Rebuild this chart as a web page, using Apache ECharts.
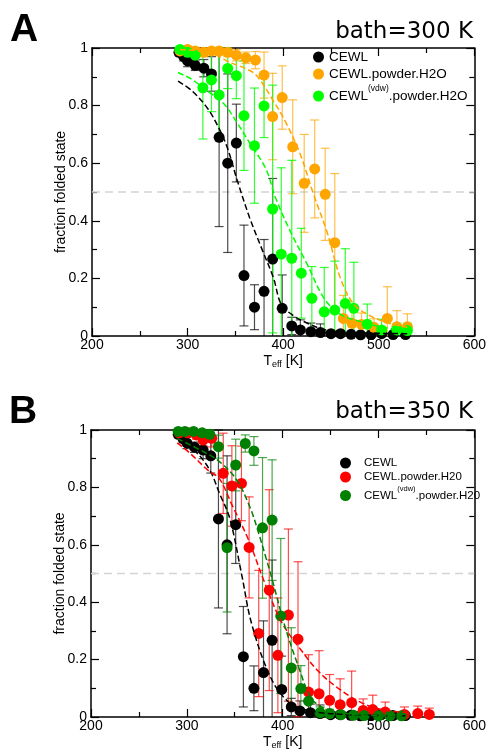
<!DOCTYPE html>
<html>
<head>
<meta charset="utf-8">
<script src="https://cdn.jsdelivr.net/npm/echarts@6/dist/echarts.min.js"></script>
<style>
html,body{margin:0;padding:0;background:#fff;}
#chart{width:489px;height:752px;}
</style>
</head>
<body>
<div id="chart"></div>
<script>
// ---------- axis / reference values ----------
const xTicksRange = [200, 600];
const xInterval = 100;
const yRange = [0, 1];
const yInterval = 0.2;
const halfLine = 0.5;

// ---------- CEWL (same in both panels) ----------
const cewlT   = [291, 296, 300, 308, 317, 325, 333, 342, 351, 359, 370, 380, 389, 399, 409, 418, 429, 439, 450, 460, 471, 481, 492, 503, 515, 528];
const cewlF   = [0.985, 0.97, 0.955, 0.94, 0.93, 0.91, 0.69, 0.60, 0.67, 0.21, 0.10, 0.155, 0.267, 0.096, 0.035, 0.021, 0.015, 0.012, 0.008, 0.008, 0.006, 0.004, 0.005, 0.008, 0.005, 0.005];
const cewlErr = [0.01, 0.015, 0.02, 0.018, 0.03, 0.06, 0.31, 0.31, 0.135, 0.175, 0.078, 0.18, 0.28, 0.116, 0.03, 0.035, 0.03, 0.03, 0.01, 0.01, 0.005, 0.005, 0.005, 0.008, 0.005, 0.005];

// ---------- Panel A: CEWL.powder.H2O ----------
const powT   = [292, 300, 308, 317, 325, 333, 342, 351, 361, 371, 380, 389, 399, 410, 422, 433, 444, 454, 463, 472, 482, 495, 509, 519, 530];
const powF   = [0.99, 0.995, 0.99, 0.985, 0.99, 0.99, 0.985, 0.975, 0.966, 0.958, 0.906, 0.762, 0.828, 0.657, 0.530, 0.580, 0.492, 0.324, 0.061, 0.044, 0.04, 0.03, 0.061, 0.032, 0.032];
const powErr = [0.01, 0.01, 0.01, 0.015, 0.01, 0.015, 0.015, 0.02, 0.02, 0.03, 0.08, 0.15, 0.11, 0.163, 0.17, 0.17, 0.16, 0.24, 0.08, 0.05, 0.04, 0.03, 0.11, 0.056, 0.045];

// ---------- Panel A: CEWL(vdw).powder.H2O ----------
const vdwT   = [292, 300, 308, 316, 325, 333, 342, 351, 359, 370, 380, 389, 398, 409, 419, 430, 443, 454, 465, 474, 488, 503, 519, 530];
const vdwF   = [0.995, 0.985, 0.975, 0.862, 0.889, 0.837, 0.929, 0.904, 0.765, 0.661, 0.799, 0.441, 0.284, 0.270, 0.218, 0.131, 0.084, 0.09, 0.113, 0.096, 0.041, 0.021, 0.021, 0.019];
const vdwErr = [0.01, 0.02, 0.03, 0.178, 0.11, 0.14, 0.07, 0.08, 0.19, 0.2, 0.11, 0.43, 0.3, 0.34, 0.156, 0.11, 0.154, 0.17, 0.19, 0.16, 0.07, 0.037, 0.023, 0.025];

// ---------- Panel B: CEWL.powder.H20 ----------
const pow2T   = [292, 301, 310, 317, 326, 338, 347, 357, 365, 375, 386, 395, 406, 416, 427, 438, 449, 460, 472, 484, 494, 507, 527, 541, 553];
const pow2F   = [0.99, 0.99, 0.983, 0.965, 0.971, 0.849, 0.805, 0.814, 0.591, 0.291, 0.442, 0.215, 0.355, 0.271, 0.087, 0.081, 0.058, 0.043, 0.05, 0.023, 0.026, 0.017, 0.009, 0.012, 0.009];
const pow2Err = [0.01, 0.01, 0.015, 0.02, 0.03, 0.14, 0.14, 0.13, 0.176, 0.22, 0.35, 0.2, 0.30, 0.27, 0.13, 0.15, 0.09, 0.09, 0.11, 0.04, 0.05, 0.035, 0.026, 0.026, 0.022];

// ---------- Panel B: CEWL(vdw).powder.H20 ----------
const vdw2T   = [291, 298, 307, 316, 324, 333, 342, 351, 361, 370, 379, 389, 398, 409, 419, 427, 439, 449, 461, 474, 485, 500, 512, 524];
const vdw2F   = [0.995, 0.995, 0.995, 0.99, 0.985, 0.942, 0.59, 0.878, 0.953, 0.927, 0.659, 0.686, 0.352, 0.171, 0.099, 0.055, 0.015, 0.012, 0.008, 0.006, 0.005, 0.004, 0.004, 0.004];
const vdw2Err = [0.005, 0.005, 0.005, 0.01, 0.015, 0.04, 0.224, 0.09, 0.03, 0.05, 0.245, 0.21, 0.27, 0.14, 0.08, 0.04, 0.02, 0.015, 0.01, 0.008, 0.005, 0.004, 0.004, 0.004];

// ---------- fitted curves ----------
const fitA_cewlT = [290, 305, 321, 333, 342, 352, 365, 378, 390, 398, 411, 425, 440, 460, 490, 530];
const fitA_cewlF = [0.885, 0.85, 0.79, 0.72, 0.65, 0.54, 0.41, 0.30, 0.20, 0.11, 0.07, 0.045, 0.025, 0.015, 0.01, 0.008];
const fitA_powT  = [292, 310, 330, 344, 360, 372, 390, 403, 418, 432, 446, 460, 474, 491, 510, 530];
const fitA_powF  = [0.995, 0.99, 0.975, 0.95, 0.93, 0.905, 0.815, 0.74, 0.63, 0.49, 0.36, 0.20, 0.11, 0.07, 0.045, 0.03];
const fitA_vdwT  = [290, 305, 321, 337, 350, 365, 382, 392, 408, 425, 443, 460, 481, 505, 530];
const fitA_vdwF  = [0.915, 0.89, 0.85, 0.81, 0.75, 0.67, 0.58, 0.48, 0.36, 0.25, 0.13, 0.075, 0.05, 0.03, 0.02];

const fitB_cewlT = [291, 309, 324, 334, 345, 357, 368, 388, 406, 420, 440, 470, 500, 528];
const fitB_cewlF = [0.965, 0.925, 0.86, 0.78, 0.69, 0.50, 0.32, 0.134, 0.052, 0.029, 0.015, 0.008, 0.005, 0.004];
const fitB_powT  = [290, 303, 322, 334, 347, 364, 381, 399, 420, 437, 458, 482, 505, 530];
const fitB_powF  = [0.955, 0.92, 0.86, 0.83, 0.74, 0.62, 0.47, 0.33, 0.23, 0.16, 0.10, 0.05, 0.025, 0.015];
const fitB_vdwT  = [290, 317, 334, 352, 366, 375, 383, 389, 402, 416, 430, 444, 470, 500, 525];
const fitB_vdwF  = [0.97, 0.925, 0.89, 0.826, 0.73, 0.64, 0.55, 0.48, 0.32, 0.18, 0.065, 0.03, 0.01, 0.005, 0.004];

// ---------- names / colors ----------
const namesA = ['CEWL', 'CEWL.powder.H2O', 'CEWL(vdw).powder.H2O'];
const namesB = ['CEWL', 'CEWL.powder.H20', 'CEWL(vdw).powder.H20'];
const colBlack = '#000000', colOrange = '#FFA500', colLime = '#00FF00', colRed = '#FF0000', colGreen = '#008000';

const FONT = '"Liberation Sans", Arial, sans-serif';

const pts = (T, F) => T.map((t, i) => [t, F[i]]);
const bars = (T, F, E) => T.map((t, i) => [t, F[i] - E[i], F[i] + E[i]]);

function errSeries(T, F, E, color, xi, yi, opacity) {
  return {
    type: 'custom', name: 'err', xAxisIndex: xi, yAxisIndex: yi, silent: true,
    data: bars(T, F, E),
    renderItem: function (params, api) {
      const x = api.value(0);
      let lo = api.value(1), hi = api.value(2);
      const children = [];
      const loC = Math.max(lo, yRange[0]), hiC = Math.min(hi, yRange[1]);
      const a = api.coord([x, hiC]), b = api.coord([x, loC]);
      const st = { stroke: color, lineWidth: 1.2, opacity: opacity };
      children.push({ type: 'line', shape: { x1: a[0], y1: a[1], x2: b[0], y2: b[1] }, style: st });
      const hw = 4.5;
      if (hi <= yRange[1]) children.push({ type: 'line', shape: { x1: a[0] - hw, y1: a[1], x2: a[0] + hw, y2: a[1] }, style: st });
      if (lo >= yRange[0]) children.push({ type: 'line', shape: { x1: b[0] - hw, y1: b[1], x2: b[0] + hw, y2: b[1] }, style: st });
      return { type: 'group', children: children };
    }
  };
}
function ptSeries(name, T, F, color, xi, yi) {
  return {
    type: 'scatter', name: name, xAxisIndex: xi, yAxisIndex: yi,
    data: pts(T, F), symbol: 'circle', symbolSize: 11,
    itemStyle: { color: color, opacity: 1 }, silent: true
  };
}
function fitSeries(T, F, color, xi, yi) {
  return {
    type: 'line', name: 'fit', xAxisIndex: xi, yAxisIndex: yi,
    data: pts(T, F), showSymbol: false, symbol: 'none', smooth: 0.35,
    lineStyle: { color: color, width: 1.5, type: [6, 3] }, silent: true, z: 3
  };
}
function halfSeries(xi, yi) {
  return {
    type: 'line', name: 'half', xAxisIndex: xi, yAxisIndex: yi,
    data: xTicksRange.map(x => [x, halfLine]), showSymbol: false, symbol: 'none',
    lineStyle: { color: '#d4d4d4', width: 1.5, type: [8, 5] }, silent: true, z: 1
  };
}

function xAxes(gi) {
  const base = {
    type: 'value', gridIndex: gi, min: xTicksRange[0], max: xTicksRange[1], interval: xInterval,
    axisLine: { show: true, onZero: false, lineStyle: { color: '#000', width: 1.5 } },
    axisTick: { show: true, inside: true, length: 8, lineStyle: { color: '#000', width: 1.2 } },
    minorTick: { show: true, splitNumber: 2, length: 5, lineStyle: { color: '#000', width: 1.2 } },
    splitLine: { show: false }, minorSplitLine: { show: false }
  };
  const bottom = Object.assign({}, base, {
    position: 'bottom',
    axisLabel: { show: true, color: '#000', fontFamily: FONT, fontSize: 14, margin: 2 },
    name: '{t|T}{s|eff}{t| [K]}', nameLocation: 'middle', nameGap: 18, nameMoveOverlap: false,
    nameTextStyle: {
      color: '#000', fontFamily: FONT,
      rich: {
        t: { fontSize: 14, fontFamily: FONT, color: '#000', lineHeight: 15, verticalAlign: 'top' },
        s: { fontSize: 9, fontFamily: FONT, color: '#000', lineHeight: 10, padding: [10, 0, 0, 0], verticalAlign: 'bottom' }
      }
    }
  });
  const topAx = Object.assign({}, base, { position: 'top', axisLabel: { show: false } });
  return [bottom, topAx];
}
function yAxes(gi) {
  const base = {
    type: 'value', gridIndex: gi, min: yRange[0], max: yRange[1], interval: yInterval,
    axisLine: { show: true, onZero: false, lineStyle: { color: '#000', width: 1.5 } },
    axisTick: { show: true, inside: true, length: 8, lineStyle: { color: '#000', width: 1.2 } },
    minorTick: { show: true, splitNumber: 2, length: 5, lineStyle: { color: '#000', width: 1.2 } },
    splitLine: { show: false }, minorSplitLine: { show: false }
  };
  const left = Object.assign({}, base, {
    position: 'left',
    axisLabel: { show: true, color: '#000', fontFamily: FONT, fontSize: 14, margin: 4 },
    name: 'fraction folded state', nameLocation: 'middle', nameGap: 24, nameRotate: 90, nameMoveOverlap: false,
    nameTextStyle: { color: '#000', fontFamily: FONT, fontSize: 14 }
  });
  const right = Object.assign({}, base, { position: 'right', axisLabel: { show: false } });
  return [left, right];
}

function legendFor(names, left, top, fs, lh, supFs, supPad, textPadLeft, gap) {
  return {
    data: names, orient: 'vertical', left: left, top: top, padding: 0,
    itemWidth: 11, itemHeight: 11, itemGap: gap, icon: 'circle', selectedMode: false,
    formatter: function (n) {
      const m = n.match(/^CEWL\(vdw\)(.*)$/);
      if (m) return '{a|CEWL}{sup|(vdw)}{a|' + m[1] + '}';
      return '{a|' + n + '}';
    },
    textStyle: {
      color: '#000', fontFamily: FONT, fontSize: fs, padding: [0, 0, 0, textPadLeft],
      rich: {
        a: { fontSize: fs, fontFamily: FONT, color: '#000', lineHeight: lh, verticalAlign: 'middle' },
        sup: { fontSize: supFs, fontFamily: FONT, color: '#000', lineHeight: supFs + 1.5, padding: [0, 0, supPad, 0], verticalAlign: 'middle' }
      }
    }
  };
}

const option = {
  animation: false,
  backgroundColor: '#ffffff',
  grid: [
    { left: 92, top: 48, width: 384, height: 288 },
    { left: 91, top: 430, width: 384, height: 287 }
  ],
  xAxis: [].concat(xAxes(0), xAxes(1)),
  yAxis: [].concat(yAxes(0), yAxes(1)),
  legend: [
    legendFor(namesA, 313, 50, 13.5, 16, 8.5, 15, 0, 3),
    legendFor(namesB, 340, 457, 11.5, 13, 7.5, 13, 8, 2)
  ],
  graphic: [
    { type: 'text', left: 10, top: 11, style: { text: 'A', font: 'bold 39px "Liberation Sans", Arial, sans-serif', fill: '#000' } },
    { type: 'text', right: 16, top: 21, style: { text: 'bath=300 K', font: '23px "DejaVu Sans", sans-serif', fill: '#000' } },
    { type: 'text', left: 9, top: 393, style: { text: 'B', font: 'bold 39px "Liberation Sans", Arial, sans-serif', fill: '#000' } },
    { type: 'text', right: 16, top: 401, style: { text: 'bath=350 K', font: '23px "DejaVu Sans", sans-serif', fill: '#000' } }
  ],
  series: [
    halfSeries(0, 0),
    errSeries(cewlT, cewlF, cewlErr, colBlack, 0, 0, 0.7),
    ptSeries(namesA[0], cewlT, cewlF, colBlack, 0, 0),
    errSeries(powT, powF, powErr, colOrange, 0, 0, 0.7),
    ptSeries(namesA[1], powT, powF, colOrange, 0, 0),
    errSeries(vdwT, vdwF, vdwErr, colLime, 0, 0, 0.8),
    ptSeries(namesA[2], vdwT, vdwF, colLime, 0, 0),
    fitSeries(fitA_cewlT, fitA_cewlF, colBlack, 0, 0),
    fitSeries(fitA_powT, fitA_powF, colOrange, 0, 0),
    fitSeries(fitA_vdwT, fitA_vdwF, colLime, 0, 0),

    halfSeries(2, 2),
    errSeries(cewlT, cewlF, cewlErr, colBlack, 2, 2, 0.7),
    ptSeries(namesB[0], cewlT, cewlF, colBlack, 2, 2),
    errSeries(pow2T, pow2F, pow2Err, colRed, 2, 2, 0.7),
    ptSeries(namesB[1], pow2T, pow2F, colRed, 2, 2),
    errSeries(vdw2T, vdw2F, vdw2Err, colGreen, 2, 2, 0.7),
    ptSeries(namesB[2], vdw2T, vdw2F, colGreen, 2, 2),
    fitSeries(fitB_cewlT, fitB_cewlF, colBlack, 2, 2),
    fitSeries(fitB_powT, fitB_powF, colRed, 2, 2),
    fitSeries(fitB_vdwT, fitB_vdwF, colGreen, 2, 2)
  ]
};

const chart = echarts.init(document.getElementById('chart'), null, { renderer: 'canvas' });
chart.setOption(option);
</script>
</body>
</html>
